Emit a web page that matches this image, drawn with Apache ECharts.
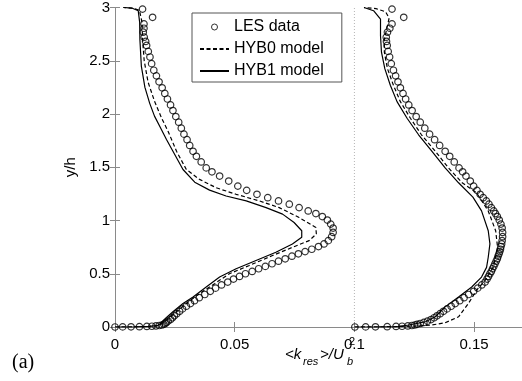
<!DOCTYPE html>
<html>
<head>
<meta charset="utf-8">
<script src="https://cdn.jsdelivr.net/npm/echarts@6/dist/echarts.min.js"></script>
<style>
  html, body { margin: 0; padding: 0; background: #fff; }
  #chart { width: 522px; height: 381px; }
</style>
</head>
<body>
<div id="chart"></div>
<script>
// y/h stations of the LES profiles (shared by both profiles)
const yLes = [
  0, 0.001, 0.002, 0.003, 0.005, 0.007, 0.01, 0.014, 0.019, 0.025, 0.033, 0.043, 0.055, 0.07, 0.087,
  0.105, 0.125, 0.147, 0.17, 0.195, 0.22, 0.247, 0.275, 0.305, 0.335, 0.365, 0.395, 0.422, 0.45,
  0.475, 0.5, 0.522, 0.547, 0.569, 0.594, 0.618, 0.64, 0.665, 0.687, 0.708, 0.73, 0.755, 0.78,
  0.811, 0.848, 0.888, 0.929, 0.966, 1.004, 1.037, 1.065, 1.09, 1.121, 1.153, 1.184, 1.214, 1.246,
  1.283, 1.323, 1.37, 1.417, 1.457, 1.494, 1.55, 1.603, 1.65, 1.705, 1.759, 1.811, 1.867, 1.923,
  1.976, 2.032, 2.085, 2.141, 2.193, 2.246, 2.302, 2.358, 2.411, 2.473, 2.535, 2.588, 2.644, 2.681,
  2.721, 2.768, 2.805, 2.846, 2.908, 2.985,
];

// left profile (starts at 0)
const lesLeft = [
  0, 0.0032, 0.0067, 0.0102, 0.0133, 0.0154, 0.0171, 0.0185, 0.0196, 0.0204, 0.021, 0.0215, 0.0222,
  0.0232, 0.024, 0.0248, 0.0258, 0.027, 0.0282, 0.0298, 0.0315, 0.0332, 0.0352, 0.0375, 0.0398,
  0.042, 0.0445, 0.0471, 0.0495, 0.052, 0.0545, 0.0573, 0.06, 0.0628, 0.0656, 0.0683, 0.0711,
  0.0739, 0.0766, 0.0794, 0.0822, 0.085, 0.0873, 0.0891, 0.0905, 0.0911, 0.0911, 0.0901, 0.0887,
  0.0866, 0.0839, 0.0807, 0.0769, 0.0728, 0.0683, 0.0638, 0.0593, 0.055, 0.0513, 0.0475, 0.0437,
  0.0405, 0.0381, 0.036, 0.034, 0.0326, 0.0312, 0.0301, 0.0288, 0.0277, 0.0266, 0.0254, 0.0242,
  0.0232, 0.0219, 0.0208, 0.0197, 0.0184, 0.0173, 0.0162, 0.0153, 0.0146, 0.0139, 0.0132, 0.0128,
  0.0122, 0.0118, 0.0121, 0.0121, 0.0157, 0.0115,
];

// right profile (offset by 0.1)
const lesRight = [
  0.1002, 0.1047, 0.1088, 0.1137, 0.1174, 0.1199, 0.1223, 0.124, 0.1252, 0.1262, 0.1275, 0.129,
  0.1305, 0.132, 0.1333, 0.1345, 0.1358, 0.1372, 0.1387, 0.1404, 0.1421, 0.144, 0.1458, 0.1477,
  0.1498, 0.1515, 0.1532, 0.1546, 0.1554, 0.156, 0.1566, 0.1572, 0.1577, 0.1582, 0.1587, 0.1592,
  0.1597, 0.16, 0.1604, 0.1607, 0.161, 0.1612, 0.1615, 0.1617, 0.1619, 0.1619, 0.1617, 0.1612,
  0.1605, 0.1597, 0.1589, 0.1582, 0.1572, 0.1562, 0.1551, 0.1538, 0.1525, 0.1512, 0.1498, 0.1484,
  0.1466, 0.1452, 0.1437, 0.1417, 0.1398, 0.1379, 0.1356, 0.1335, 0.1314, 0.1294, 0.1275, 0.1258,
  0.1241, 0.1227, 0.1214, 0.1203, 0.1192, 0.1182, 0.1172, 0.1163, 0.1154, 0.1147, 0.1141, 0.1137,
  0.1134, 0.1133, 0.1138, 0.1148, 0.1157, 0.1206, 0.1157,
];

// model curves as [x, y/h]
const hyb0Left = [
  [0, 0], [0.008, 0.0015], [0.0145, 0.005], [0.018, 0.012], [0.0195, 0.03], [0.0205, 0.05],
  [0.0215, 0.065], [0.0257, 0.143], [0.0298, 0.22], [0.0353, 0.314], [0.0416, 0.407], [0.0478, 0.5],
  [0.0561, 0.578], [0.0658, 0.671], [0.0741, 0.748], [0.0811, 0.811], [0.0841, 0.873], [0.0839, 0.935],
  [0.0769, 1.028], [0.0686, 1.121], [0.0603, 1.184], [0.0506, 1.246], [0.0423, 1.307], [0.0353, 1.386],
  [0.0298, 1.479], [0.0257, 1.65], [0.0222, 1.836], [0.0195, 1.96], [0.0165, 2.12], [0.0138, 2.3],
  [0.0122, 2.5], [0.0115, 2.7], [0.0113, 2.86], [0.0102, 2.975], [0.007, 2.995], [0.0035, 3],
];
const hyb1Left = [
  [0, 0], [0.008, 0.0015], [0.014, 0.005], [0.0175, 0.012], [0.019, 0.03], [0.0201, 0.06],
  [0.0215, 0.09], [0.0242, 0.143], [0.0284, 0.22], [0.0326, 0.282], [0.0381, 0.376], [0.0437, 0.469],
  [0.0506, 0.547], [0.0589, 0.624], [0.0672, 0.702], [0.0741, 0.78], [0.078, 0.842], [0.078, 0.904],
  [0.0748, 0.981], [0.07, 1.06], [0.0631, 1.121], [0.0548, 1.184], [0.0464, 1.23], [0.0395, 1.285],
  [0.0333, 1.36], [0.0284, 1.479], [0.0242, 1.65], [0.0215, 1.76], [0.019, 1.87], [0.0165, 1.98],
  [0.0145, 2.1], [0.0125, 2.25], [0.011, 2.45], [0.0104, 2.7], [0.0103, 2.86], [0.0097, 2.97],
  [0.007, 2.995], [0.0035, 3],
];
const hyb0Right = [
  [0.1, 0], [0.112, 0.002], [0.125, 0.008], [0.1324, 0.019], [0.1379, 0.04], [0.1435, 0.096],
  [0.1476, 0.22], [0.151, 0.345], [0.1546, 0.438], [0.158, 0.562], [0.1598, 0.748], [0.159, 0.904],
  [0.1559, 1.09], [0.151, 1.26], [0.145, 1.354], [0.1393, 1.494], [0.1338, 1.65], [0.128, 1.805],
  [0.1234, 1.96], [0.1192, 2.116], [0.1163, 2.27], [0.1138, 2.426], [0.1125, 2.58], [0.1125, 2.7],
  [0.1135, 2.8], [0.1145, 2.9], [0.113, 2.96], [0.109, 2.99], [0.104, 3],
];
const hyb1Right = [
  [0.1, 0], [0.11, 0.001], [0.118, 0.004], [0.1227, 0.019], [0.1297, 0.049], [0.1338, 0.096],
  [0.1379, 0.189], [0.1435, 0.282], [0.149, 0.376], [0.1531, 0.469], [0.1552, 0.56], [0.1559, 0.655],
  [0.1566, 0.78], [0.1559, 0.904], [0.1531, 1.09], [0.1495, 1.22], [0.1435, 1.354], [0.1379, 1.494],
  [0.1324, 1.65], [0.1268, 1.805], [0.122, 1.96], [0.1178, 2.116], [0.115, 2.27], [0.1127, 2.426],
  [0.1113, 2.58], [0.1109, 2.737], [0.1109, 2.89], [0.108, 2.97], [0.104, 3],
];

const dividerX = 0.1;
const xTicks = [0, 0.05, 0.1, 0.15];
const yTicks = [0, 0.5, 1, 1.5, 2, 2.5, 3];
const legendNames = ["LES data", "HYB0 model", "HYB1 model"];

const FONT = "'Liberation Sans', Arial, sans-serif";
const AXIS_GREY = "#8a8a8a";

const chart = echarts.init(document.getElementById("chart"), null, { renderer: "canvas" });

const baseX = {
  type: "value",
  min: xTicks[0],
  max: 0.17,
  interval: xTicks[1] - xTicks[0],
  axisLine: { lineStyle: { color: AXIS_GREY, width: 1 } },
  axisTick: { inside: true, length: 5, lineStyle: { color: AXIS_GREY } },
  splitLine: { show: false },
};
const baseY = {
  type: "value",
  min: yTicks[0],
  max: yTicks[yTicks.length - 1],
  interval: yTicks[1] - yTicks[0],
  axisLine: { lineStyle: { color: AXIS_GREY, width: 1 } },
  axisTick: { inside: true, length: 5, lineStyle: { color: AXIS_GREY } },
  splitLine: { show: false },
};

const lesStyle = {
  type: "scatter",
  name: legendNames[0],
  symbol: "circle",
  symbolSize: 6.5,
  itemStyle: { color: "transparent", borderColor: "#000", borderWidth: 1.2 },
  z: 3,
};
const modelLine = (name, data, dash) => ({
  type: "line",
  name,
  data,
  symbol: "none",
  itemStyle: { color: "#000" },
  lineStyle: { color: "#000", width: 1.2, type: dash ? [4, 2.5] : "solid" },
  z: 4,
});

chart.setOption({
  animation: false,
  backgroundColor: "#fff",
  grid: { left: 115, top: 5, width: 409, height: 322 },
  xAxis: [
    {
      ...baseX,
      position: "bottom",
      axisLabel: { color: "#000", fontSize: 15, fontFamily: FONT, margin: 10, showMaxLabel: false },
    },
    { ...baseX, position: "top", axisLabel: { show: false } },
  ],
  yAxis: [
    {
      ...baseY,
      position: "left",
      name: "y/h",
      nameLocation: "middle",
      nameGap: 31,
      nameRotate: 90,
      nameTextStyle: { color: "#000", fontSize: 15, fontFamily: FONT },
      axisLabel: { color: "#000", fontSize: 15, fontFamily: FONT, margin: 5 },
    },
    { ...baseY, position: "right", axisLabel: { show: false } },
  ],
  legend: {
    orient: "vertical",
    left: 192,
    top: 13,
    padding: [6, 18, 3, 7],
    itemWidth: 29,
    itemHeight: 6,
    itemGap: 6,
    borderColor: "#555",
    borderWidth: 1,
    backgroundColor: "#fff",
    textStyle: { color: "#000", fontSize: 16, fontFamily: FONT, lineHeight: 16 },
    data: [
      { name: legendNames[0], icon: "circle", itemStyle: { color: "transparent", borderColor: "#000", borderWidth: 1 } },
      { name: legendNames[1], itemStyle: { opacity: 0 } },
      { name: legendNames[2], itemStyle: { opacity: 0 } },
    ],
  },
  graphic: [
    { type: "text", left: 285, top: 347, style: { text: "<k", font: `italic 15px ${FONT}`, fill: "#000" } },
    { type: "text", left: 303, top: 356, style: { text: "res", font: `italic 11px ${FONT}`, fill: "#000" } },
    { type: "text", left: 320, top: 347, style: { text: ">/U", font: `italic 15px ${FONT}`, fill: "#000" } },
    { type: "text", left: 347, top: 356, style: { text: "b", font: `italic 11px ${FONT}`, fill: "#000" } },
    { type: "text", left: 349, top: 336, style: { text: "2", font: `11px ${FONT}`, fill: "#000" } },
    { type: "text", left: 12, top: 353, style: { text: "(a)", font: `20px 'Liberation Serif', serif`, fill: "#000" } },
  ],
  series: [
    {
      type: "line",
      data: [[dividerX, yTicks[0]], [dividerX, yTicks[yTicks.length - 1]]],
      symbol: "none",
      silent: true,
      lineStyle: { color: "#b5b5b5", width: 1, type: [1, 2] },
      z: 1,
    },
    { ...lesStyle, data: lesLeft.map((x, i) => [x, yLes[i]]) },
    { ...lesStyle, data: lesRight.map((x, i) => [x, yLes[i]]) },
    modelLine(legendNames[1], hyb0Left, true),
    modelLine(legendNames[1], hyb0Right, true),
    modelLine(legendNames[2], hyb1Left, false),
    modelLine(legendNames[2], hyb1Right, false),
  ],
});
</script>
</body>
</html>
